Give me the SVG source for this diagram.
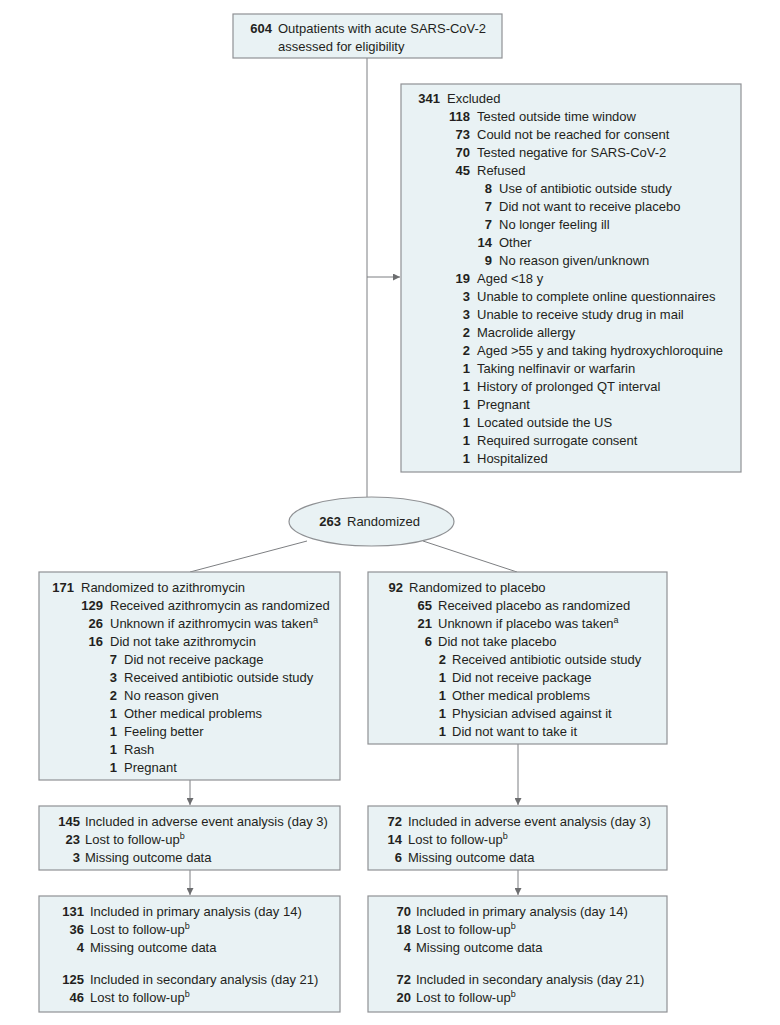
<svg xmlns="http://www.w3.org/2000/svg" width="780" height="1025" viewBox="0 0 780 1025">
<defs>
<marker id="ah" viewBox="0 0 10 10" refX="10" refY="5" markerWidth="7" markerHeight="7" markerUnits="userSpaceOnUse" orient="auto">
<path d="M0,0 L10,5 L0,10 z" fill="#6d6e70"/>
</marker>
<style>
.box{fill:#e9f2f4;stroke:#8f9194;stroke-width:1.2}
.ln{stroke:#7d7f82;stroke-width:1;fill:none}
text{font-family:"Liberation Sans",Arial,sans-serif;font-size:13px;fill:#231f20}
.n{font-weight:bold;text-anchor:end}
.sup{font-size:9px}
</style>
</defs>
<rect width="780" height="1025" fill="#ffffff"/>
<g id="connectors">
<line class="ln" x1="367" y1="58" x2="367" y2="497"/>
<line class="ln" x1="367" y1="277" x2="400" y2="277" marker-end="url(#ah)"/>
<line class="ln" x1="307" y1="541" x2="190" y2="572"/>
<line class="ln" x1="423" y1="541" x2="517" y2="572"/>
<line class="ln" x1="190" y1="780" x2="190" y2="805" marker-end="url(#ah)"/>
<line class="ln" x1="518" y1="744" x2="518" y2="805" marker-end="url(#ah)"/>
<line class="ln" x1="190" y1="870" x2="190" y2="895" marker-end="url(#ah)"/>
<line class="ln" x1="518" y1="870" x2="518" y2="895" marker-end="url(#ah)"/>
</g>
<g id="assessed">
<rect class="box" x="233" y="14" width="269" height="44"/>
<text class="n" x="272" y="33">604</text>
<text x="278" y="33">Outpatients with acute SARS-CoV-2</text>
<text x="278" y="51">assessed for eligibility</text>
</g>
<g id="excluded">
<rect class="box" x="401" y="84" width="340" height="388"/>
<text class="n" x="440" y="103">341</text><text x="447" y="103">Excluded</text>
<text class="n" x="470" y="121">118</text><text x="477" y="121">Tested outside time window</text>
<text class="n" x="470" y="139">73</text><text x="477" y="139">Could not be reached for consent</text>
<text class="n" x="470" y="157">70</text><text x="477" y="157">Tested negative for SARS-CoV-2</text>
<text class="n" x="470" y="175">45</text><text x="477" y="175">Refused</text>
<text class="n" x="492" y="193">8</text><text x="499" y="193">Use of antibiotic outside study</text>
<text class="n" x="492" y="211">7</text><text x="499" y="211">Did not want to receive placebo</text>
<text class="n" x="492" y="229">7</text><text x="499" y="229">No longer feeling ill</text>
<text class="n" x="492" y="247">14</text><text x="499" y="247">Other</text>
<text class="n" x="492" y="265">9</text><text x="499" y="265">No reason given/unknown</text>
<text class="n" x="470" y="283">19</text><text x="477" y="283">Aged &lt;18 y</text>
<text class="n" x="470" y="301">3</text><text x="477" y="301">Unable to complete online questionnaires</text>
<text class="n" x="470" y="319">3</text><text x="477" y="319">Unable to receive study drug in mail</text>
<text class="n" x="470" y="337">2</text><text x="477" y="337">Macrolide allergy</text>
<text class="n" x="470" y="355">2</text><text x="477" y="355">Aged &gt;55 y and taking hydroxychloroquine</text>
<text class="n" x="470" y="373">1</text><text x="477" y="373">Taking nelfinavir or warfarin</text>
<text class="n" x="470" y="391">1</text><text x="477" y="391">History of prolonged QT interval</text>
<text class="n" x="470" y="409">1</text><text x="477" y="409">Pregnant</text>
<text class="n" x="470" y="427">1</text><text x="477" y="427">Located outside the US</text>
<text class="n" x="470" y="445">1</text><text x="477" y="445">Required surrogate consent</text>
<text class="n" x="470" y="463">1</text><text x="477" y="463">Hospitalized</text>
</g>
<g id="randomized">
<ellipse class="box" cx="371.5" cy="521.5" rx="82.5" ry="24.5"/>
<text class="n" x="341" y="526">263</text><text x="347" y="526">Randomized</text>
</g>
<g id="azithro">
<rect class="box" x="39" y="572" width="301" height="208"/>
<text class="n" x="74" y="592">171</text><text x="81" y="592">Randomized to azithromycin</text>
<text class="n" x="103" y="610">129</text><text x="110" y="610">Received azithromycin as randomized</text>
<text class="n" x="103" y="628">26</text><text x="110" y="628">Unknown if azithromycin was taken<tspan class="sup" dy="-5">a</tspan></text>
<text class="n" x="103" y="646">16</text><text x="110" y="646">Did not take azithromycin</text>
<text class="n" x="117" y="664">7</text><text x="124" y="664">Did not receive package</text>
<text class="n" x="117" y="682">3</text><text x="124" y="682">Received antibiotic outside study</text>
<text class="n" x="117" y="700">2</text><text x="124" y="700">No reason given</text>
<text class="n" x="117" y="718">1</text><text x="124" y="718">Other medical problems</text>
<text class="n" x="117" y="736">1</text><text x="124" y="736">Feeling better</text>
<text class="n" x="117" y="754">1</text><text x="124" y="754">Rash</text>
<text class="n" x="117" y="772">1</text><text x="124" y="772">Pregnant</text>
</g>
<g id="placebo">
<rect class="box" x="368" y="572" width="299" height="172"/>
<text class="n" x="403" y="592">92</text><text x="409" y="592">Randomized to placebo</text>
<text class="n" x="432" y="610">65</text><text x="438" y="610">Received placebo as randomized</text>
<text class="n" x="432" y="628">21</text><text x="438" y="628">Unknown if placebo was taken<tspan class="sup" dy="-5">a</tspan></text>
<text class="n" x="432" y="646">6</text><text x="438" y="646">Did not take placebo</text>
<text class="n" x="446" y="664">2</text><text x="452" y="664">Received antibiotic outside study</text>
<text class="n" x="446" y="682">1</text><text x="452" y="682">Did not receive package</text>
<text class="n" x="446" y="700">1</text><text x="452" y="700">Other medical problems</text>
<text class="n" x="446" y="718">1</text><text x="452" y="718">Physician advised against it</text>
<text class="n" x="446" y="736">1</text><text x="452" y="736">Did not want to take it</text>
</g>
<g id="azithro-day3">
<rect class="box" x="39" y="806" width="301" height="64"/>
<text class="n" x="80" y="826">145</text><text x="85" y="826">Included in adverse event analysis (day 3)</text>
<text class="n" x="80" y="844">23</text><text x="85" y="844">Lost to follow-up<tspan class="sup" dy="-5">b</tspan></text>
<text class="n" x="80" y="862">3</text><text x="85" y="862">Missing outcome data</text>
</g>
<g id="placebo-day3">
<rect class="box" x="368" y="806" width="299" height="64"/>
<text class="n" x="402" y="826">72</text><text x="408" y="826">Included in adverse event analysis (day 3)</text>
<text class="n" x="402" y="844">14</text><text x="408" y="844">Lost to follow-up<tspan class="sup" dy="-5">b</tspan></text>
<text class="n" x="402" y="862">6</text><text x="408" y="862">Missing outcome data</text>
</g>
<g id="azithro-day14">
<rect class="box" x="39" y="896" width="301" height="116"/>
<text class="n" x="84" y="916">131</text><text x="90" y="916">Included in primary analysis (day 14)</text>
<text class="n" x="84" y="934">36</text><text x="90" y="934">Lost to follow-up<tspan class="sup" dy="-5">b</tspan></text>
<text class="n" x="84" y="952">4</text><text x="90" y="952">Missing outcome data</text>
<text class="n" x="84" y="984">125</text><text x="90" y="984">Included in secondary analysis (day 21)</text>
<text class="n" x="84" y="1002">46</text><text x="90" y="1002">Lost to follow-up<tspan class="sup" dy="-5">b</tspan></text>
</g>
<g id="placebo-day14">
<rect class="box" x="368" y="896" width="299" height="116"/>
<text class="n" x="411" y="916">70</text><text x="416" y="916">Included in primary analysis (day 14)</text>
<text class="n" x="411" y="934">18</text><text x="416" y="934">Lost to follow-up<tspan class="sup" dy="-5">b</tspan></text>
<text class="n" x="411" y="952">4</text><text x="416" y="952">Missing outcome data</text>
<text class="n" x="411" y="984">72</text><text x="416" y="984">Included in secondary analysis (day 21)</text>
<text class="n" x="411" y="1002">20</text><text x="416" y="1002">Lost to follow-up<tspan class="sup" dy="-5">b</tspan></text>
</g>
</svg>
